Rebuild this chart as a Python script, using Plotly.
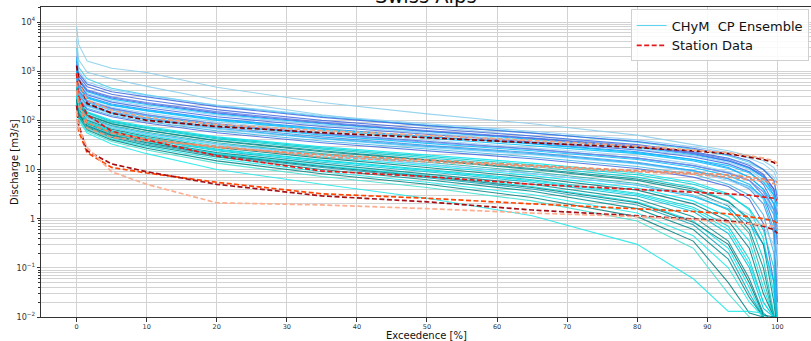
import plotly.graph_objects as go

title_text = "Swiss Alps"
x_title = "Exceedence [%]"
y_title = "Discharge [m3/s]"
ens_name = "CHyM\u00a0 CP Ensemble"
sta_name = "Station Data"
x_tick_vals = [0, 10, 20, 30, 40, 50, 60, 70, 80, 90, 100]

exceedance = [0, 0.3, 1.5, 5, 10, 20, 35, 50, 65, 80, 88, 93, 96, 98, 99.5, 100]

# ---- model ensemble ----
ens_01 = [8000, 3500, 1600, 1150, 940, 470, 230, 135, 85, 50, 32, 24, 19, 15, 11, 8]
ens_02 = [4500, 1700, 950, 700, 490, 260, 130, 75, 48, 30, 22, 17, 13, 10, 7, 5]
ens_03 = [3000, 1200, 700, 450, 330, 200, 120, 80, 56, 36, 26, 19, 14, 10, 6, 3]
ens_04 = [2000, 900, 550, 380, 300, 190, 115, 78, 55, 37, 27, 20, 15, 10, 6, 2.5]
ens_05 = [1600, 800, 480, 340, 260, 165, 100, 68, 48, 32, 23, 17, 12, 8, 4, 1.2]
ens_06 = [1400, 700, 420, 300, 230, 150, 92, 62, 44, 30, 22, 16, 11, 7, 3.5, 0.8]
ens_07 = [1800, 650, 380, 270, 210, 135, 85, 58, 41, 28, 20, 15, 10.5, 7, 3, 0.5]
ens_08 = [1200, 600, 350, 250, 195, 128, 80, 55, 39, 26, 19, 14, 10, 6, 2.5, 1.5]
ens_09 = [1100, 550, 330, 235, 180, 118, 75, 52, 37, 25, 18, 13, 9, 5, 2, 0.3]
ens_10 = [1000, 500, 300, 215, 165, 108, 68, 47, 34, 23, 16, 11, 7, 4, 1.5, 0.1]
ens_11 = [900, 450, 280, 200, 155, 100, 63, 44, 31, 21, 15, 10.5, 7, 4, 2, 1]
ens_12 = [850, 420, 260, 185, 140, 92, 58, 40, 28, 19, 13, 9, 6, 3.5, 1.2, 0.05]
ens_13 = [950, 400, 250, 175, 130, 85, 54, 37, 26, 17, 12, 8.5, 6, 3, 0.8, 0.02]
ens_14 = [700, 360, 230, 160, 122, 80, 50, 34, 24, 16, 11, 7.5, 5, 2.5, 0.6, 0.008]
ens_15 = [650, 330, 210, 148, 112, 73, 46, 31, 22, 14, 9.5, 6.5, 4, 2, 0.5, 0.005]
ens_16 = [600, 300, 190, 135, 102, 66, 42, 28, 20, 13, 9, 6, 4.2, 2.5, 1.5, 0.7]
ens_17 = [560, 280, 175, 125, 95, 61, 38, 26, 18, 11.5, 8, 5, 3, 1.2, 0.2, 0.005]
ens_18 = [520, 260, 165, 118, 88, 56, 35, 24, 16.5, 10.5, 7, 4.5, 2.5, 0.8, 0.05, 0.005]
ens_19 = [500, 250, 150, 100, 75, 46, 29, 20, 13.5, 8.5, 5.5, 3.2, 1.5, 0.4, 0.03, 0.005]
ens_20 = [450, 230, 140, 92, 68, 42, 26, 17.5, 11.5, 7, 4.3, 2.3, 0.9, 0.15, 0.012, 0.005]
ens_21 = [420, 210, 125, 84, 62, 38, 23, 15.5, 10, 6, 3.6, 1.8, 0.6, 0.1, 0.01, 0.005]
ens_22 = [400, 200, 118, 78, 57, 35, 21, 14, 9, 5.2, 3, 1.5, 0.5, 0.06, 0.01, 0.005]
ens_23 = [380, 190, 112, 74, 54, 33, 20, 13, 8.3, 4.8, 2.8, 1.6, 0.8, 0.3, 0.05, 0.005]
ens_24 = [360, 180, 105, 70, 50, 30, 18, 12, 7.5, 4.2, 2.3, 1.1, 0.35, 0.04, 0.01, 0.005]
ens_25 = [340, 170, 100, 66, 47, 28, 17, 11, 6.8, 3.8, 2, 0.9, 0.25, 0.03, 0.01, 0.005]
ens_26 = [320, 160, 95, 62, 44, 26, 15.5, 10, 6.2, 3.3, 1.7, 0.7, 0.15, 0.02, 0.01, 0.005]
ens_27 = [300, 150, 90, 58, 41, 24, 14, 9, 5.5, 2.9, 1.4, 0.5, 0.1, 0.015, 0.01, 0.005]
ens_28 = [290, 145, 85, 55, 38, 22, 13, 8.2, 5, 2.5, 1.1, 0.35, 0.06, 0.012, 0.008, 0.005]
ens_29 = [280, 140, 80, 52, 36, 21, 12, 7.5, 4.5, 2.2, 0.9, 0.25, 0.04, 0.01, 0.008, 0.005]
ens_30 = [260, 130, 75, 48, 33, 19, 11, 6.8, 4, 1.9, 0.75, 0.2, 0.03, 0.01, 0.008, 0.005]
ens_31 = [250, 125, 72, 45, 31, 18, 10, 6.2, 3.6, 1.6, 0.6, 0.15, 0.025, 0.01, 0.008, 0.005]
ens_32 = [240, 120, 68, 42, 29, 16.5, 9, 5.5, 3.1, 1.3, 0.45, 0.1, 0.02, 0.01, 0.008, 0.005]
ens_33 = [230, 115, 64, 40, 27, 15, 8.2, 5, 2.7, 1.1, 0.35, 0.05, 0.012, 0.01, 0.008, 0.005]
ens_34 = [220, 110, 60, 37, 25, 13.5, 7.2, 4.3, 2.3, 0.9, 0.25, 0.03, 0.01, 0.008, 0.006, 0.005]
ens_35 = [210, 100, 55, 33, 21, 10, 5, 2.6, 1.15, 0.3, 0.06, 0.013, 0.013, 0.012, 0.006, 0.005]
ens_36 = [2500, 1000, 600, 420, 320, 205, 125, 85, 60, 40, 29, 22, 17, 13, 9, 6]
ens_37 = [1300, 650, 400, 285, 220, 142, 88, 60, 43, 29, 21, 15, 11, 7.5, 4, 2]
ens_38 = [1000, 480, 290, 205, 158, 104, 66, 46, 33, 22, 16, 12, 8.5, 5.5, 3, 1.8]
ens_39 = [800, 380, 240, 170, 128, 84, 53, 36, 25.5, 17, 12, 8.5, 6, 3.5, 1.5, 0.6]
ens_40 = [620, 320, 200, 140, 106, 69, 43, 29.5, 21, 13.5, 9.5, 6.5, 4.5, 2.8, 1.2, 0.4]
ens_41 = [480, 240, 145, 96, 71, 44, 27.5, 18.5, 12.5, 7.8, 5, 3, 1.6, 0.6, 0.1, 0.005]
ens_42 = [440, 220, 130, 86, 63, 39, 24, 16, 10.5, 6.4, 4, 2.2, 1.0, 0.3, 0.02, 0.005]
ens_43 = [370, 185, 108, 72, 52, 32, 19.5, 12.8, 8.2, 4.9, 3.0, 1.9, 1.2, 0.7, 0.3, 0.1]
ens_44 = [310, 155, 92, 60, 43, 25, 15, 9.6, 5.9, 3.1, 1.55, 0.6, 0.12, 0.02, 0.01, 0.005]
ens_45 = [270, 135, 78, 50, 35, 20, 11.5, 7.2, 4.3, 2.1, 0.85, 0.3, 0.05, 0.011, 0.01, 0.005]

ensemble = [ens_01, ens_02, ens_03, ens_04, ens_05, ens_06, ens_07, ens_08, ens_09,
            ens_10, ens_11, ens_12, ens_13, ens_14, ens_15, ens_16, ens_17, ens_18,
            ens_19, ens_20, ens_21, ens_22, ens_23, ens_24, ens_25, ens_26, ens_27,
            ens_28, ens_29, ens_30, ens_31, ens_32, ens_33, ens_34, ens_35, ens_36,
            ens_37, ens_38, ens_39, ens_40, ens_41, ens_42, ens_43, ens_44, ens_45]

ens_colors = ["#87CEEB", "#87CEEB", "#3FD0EE", "#4169E1", "#4169E1", "#5A7DE8",
              "#00BFFF", "#87CEFA", "#4169E1", "#1E90FF", "#00BFFF", "#9AD0EC",
              "#4169E1", "#00BFFF", "#4A90E2", "#87CEFA", "#3CB4E6", "#4169E1",
              "#00E5EE", "#00CED1", "#008B8B", "#20B2AA", "#00BFFF", "#00E5EE",
              "#007B80", "#00CED1", "#00BCD4", "#008B8B", "#00E5EE", "#0AA6B8",
              "#008B8B", "#1DE9E9", "#008080", "#40E0D0", "#1DE9E9", "#87CEFA",
              "#4169E1", "#00BFFF", "#6495ED", "#29B6F6", "#00CED1", "#008B8B",
              "#9AD0EC", "#00E5EE", "#00777A"]
ens_legend_index = 2

# ---- observed station data ----
sta_1 = [1300, 700, 220, 140, 100, 75, 56, 45, 35, 28, 24, 21, 18, 16, 14, 12]
sta_2 = [900, 600, 260, 160, 115, 82, 62, 50, 39, 30, 25, 22, 19, 17, 15, 13.5]
sta_3 = [400, 200, 70, 45, 38, 30, 18, 14.5, 11.5, 9, 8, 7, 6.3, 5.8, 5.2, 4.5]
sta_4 = [900, 300, 130, 60, 40, 19, 9.3, 7.2, 5.0, 4.0, 3.5, 3.2, 3.0, 2.8, 2.6, 2.4]
sta_5 = [150, 60, 22, 11, 8.5, 5.5, 3.2, 2.6, 2.0, 1.6, 1.4, 1.25, 1.1, 1.0, 0.9, 0.8]
sta_6 = [200, 80, 24, 13, 9, 5, 2.9, 2.2, 1.5, 1.15, 1.0, 0.9, 0.8, 0.7, 0.6, 0.5]
sta_7 = [150, 70, 28, 9, 5, 2.1, 1.9, 1.6, 1.3, 1.1, 0.95, 0.85, 0.8, 0.75, 0.7, 0.65]
sta_8 = [600, 250, 90, 55, 42, 28, 20, 15.5, 12, 9.5, 8.5, 7.8, 7, 6.5, 6, 5.5]

stations = [sta_1, sta_2, sta_3, sta_4, sta_5, sta_6, sta_7, sta_8]
sta_colors = ["#8B0000", "#F4A582", "#E9967A", "#E31A1C", "#FF4500", "#A50F15",
              "#FCAE91", "#EF8A62"]
sta_legend_index = 3

fig = go.Figure()

for i, (vals, col) in enumerate(zip(ensemble, ens_colors)):
    fig.add_trace(go.Scatter(
        x=exceedance, y=vals, mode="lines",
        line=dict(color=col, width=1.1),
        opacity=0.85,
        name=ens_name,
        showlegend=(i == ens_legend_index),
        hoverinfo="skip",
    ))

for i, (vals, col) in enumerate(zip(stations, sta_colors)):
    fig.add_trace(go.Scatter(
        x=exceedance, y=vals, mode="lines",
        line=dict(color=col, width=1.7, dash="5px,2.5px"),
        name=sta_name,
        showlegend=(i == sta_legend_index),
        hoverinfo="skip",
    ))

grid_col = "#D3D3D3"
tick_font = dict(size=6.5, family="DejaVu Sans", color="#333")
fig.update_layout(
    width=811, height=341,
    margin=dict(l=41, r=0, t=7, b=24),
    paper_bgcolor="white", plot_bgcolor="white",
    font=dict(family="DejaVu Sans", color="#222"),
    showlegend=True,
    legend=dict(
        x=0.997, xanchor="right", y=0.992, yanchor="top",
        bgcolor="rgba(255,255,255,0.85)", bordercolor="#D0D0D0", borderwidth=1,
        font=dict(size=13, family="DejaVu Sans", color="#111"),
        tracegroupgap=0, itemwidth=30,
    ),
    xaxis=dict(
        range=[-5.08, 104.8], tickvals=x_tick_vals,
        showgrid=True, gridcolor=grid_col, gridwidth=1,
        zeroline=False,
        showline=True, linecolor="#333", linewidth=1, mirror=True,
        ticks="outside", ticklen=3.5, tickcolor="#333",
        tickfont=tick_font,
    ),
    yaxis=dict(
        type="log", range=[-2, 4.305], dtick=1,
        exponentformat="power",
        showgrid=True, gridcolor=grid_col, gridwidth=1,
        zeroline=False,
        showline=True, linecolor="#333", linewidth=1, mirror=True,
        ticks="outside", ticklen=3.5, tickcolor="#333",
        tickfont=tick_font,
        minor=dict(dtick="D1", showgrid=True, gridcolor=grid_col, gridwidth=1,
                   ticks="outside", ticklen=2, tickcolor="#333"),
    ),
    annotations=[
        dict(text=title_text, xref="paper", yref="paper", x=0.5, y=1,
             xanchor="center", yanchor="bottom", yshift=-3, showarrow=False,
             font=dict(size=19.5, family="DejaVu Sans", color="#111")),
        dict(text=x_title, xref="paper", yref="paper", x=0.5, y=0,
             xanchor="center", yanchor="bottom", yshift=-26, showarrow=False,
             font=dict(size=10, family="DejaVu Sans", color="#111")),
        dict(text=y_title, xref="paper", yref="paper", x=0, y=0.5,
             xanchor="center", yanchor="middle", xshift=-27, textangle=-90,
             showarrow=False,
             font=dict(size=10, family="DejaVu Sans", color="#111")),
    ],
)

fig.write_html("out.html")
